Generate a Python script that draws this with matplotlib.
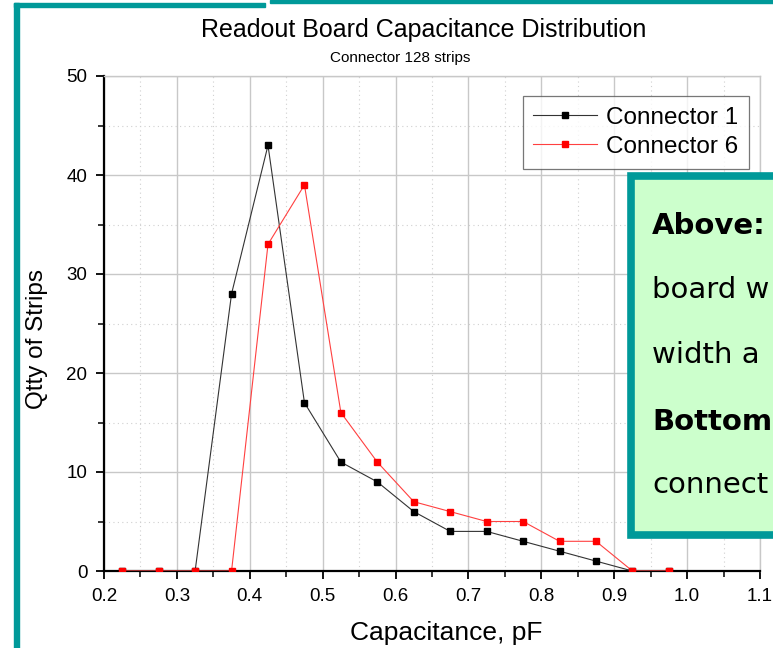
import matplotlib
matplotlib.use("Agg")
import matplotlib.pyplot as plt
from matplotlib.patches import Rectangle
from matplotlib.ticker import MultipleLocator

plt.rcParams['font.family'] = ['Liberation Sans', 'DejaVu Sans']

capacitance = [0.225, 0.275, 0.325, 0.375, 0.425, 0.475, 0.525, 0.575,
               0.625, 0.675, 0.725, 0.775, 0.825, 0.875, 0.925, 0.975]
connector1 = [0, 0, 0, 28, 43, 17, 11, 9, 6, 4, 4, 3, 2, 1, 0, 0]
connector6 = [0, 0, 0, 0, 33, 39, 16, 11, 7, 6, 5, 5, 3, 3, 0, 0]
x_ticks = [0.2, 0.3, 0.4, 0.5, 0.6, 0.7, 0.8, 0.9, 1.0, 1.1]
y_ticks = [0, 10, 20, 30, 40, 50]

W, H = 773, 648
fig = plt.figure(figsize=(W / 100, H / 100), dpi=100)
fig.patch.set_facecolor('white')

ax = fig.add_axes([104 / W, (H - 571) / H, (760 - 104) / W, (571 - 76) / H])
ax.plot(capacitance, connector1, color='#333333', lw=0.8, marker='s',
        ms=5, mfc='black', mec='black', label='Connector 1', zorder=3)
ax.plot(capacitance, connector6, color='#ff4040', lw=0.8, marker='s',
        ms=5, mfc='#ff0000', mec='#ff0000', label='Connector 6', zorder=4)

ax.set_xlim(0.2, 1.1)
ax.set_ylim(0, 50)
ax.set_xticks(x_ticks)
ax.set_xticklabels([f"{v:.1f}" for v in x_ticks])
ax.set_yticks(y_ticks)
ax.xaxis.set_minor_locator(MultipleLocator(0.05))
ax.yaxis.set_minor_locator(MultipleLocator(5))
ax.grid(which='major', color='#c8c8c8', lw=1.0, ls='-')
ax.grid(which='minor', color='#d0d0d0', lw=0.8, ls=(0, (1, 3)))
ax.set_axisbelow(True)
ax.tick_params(which='major', direction='out', length=6, width=1.3,
               labelsize=13.5, colors='black', pad=6)
ax.tick_params(which='minor', direction='out', length=4, width=1.1)
for s in ['top', 'right']:
    ax.spines[s].set_color('#c8c8c8')
    ax.spines[s].set_linewidth(1.0)
for s in ['left', 'bottom']:
    ax.spines[s].set_linewidth(1.6)
ax.set_xlabel('Capacitance, pF', fontsize=19)
ax.set_ylabel('Qtty of Strips', fontsize=17.5)
ax.xaxis.set_label_coords((446 - 104) / 656, -(633 - 571) / 495)
ax.yaxis.set_label_coords(-(104 - 37) / 656, (571 - 339) / 495)
ax.xaxis.label.set_va('center')
ax.yaxis.label.set_va('center')

leg = ax.legend(loc='upper right', bbox_to_anchor=(0.995, 0.975), fontsize=17.5,
                frameon=True, fancybox=False, edgecolor='#555555',
                handlelength=2.6, borderpad=0.45, labelspacing=0.3,
                handletextpad=0.4, borderaxespad=0.3)
leg.get_frame().set_linewidth(0.9)

fig.text(424 / W, 1 - 30 / H, 'Readout Board Capacitance Distribution',
         ha='center', va='center', fontsize=18)
fig.text(400 / W, 1 - 58 / H, 'Connector 128 strips',
         ha='center', va='center', fontsize=11)

teal = '#009999'
# slide frame
fig.patches.append(Rectangle((14 / W, 0), 5 / W, (H - 3) / H,
                             transform=fig.transFigure, color=teal, zorder=10))
fig.patches.append(Rectangle((14 / W, 1 - 7 / H), (265 - 14) / W, 4 / H,
                             transform=fig.transFigure, color=teal, zorder=10))
fig.patches.append(Rectangle((270 / W, 1 - 3 / H), (W - 270) / W, 3 / H,
                             transform=fig.transFigure, color=teal, zorder=10))

# overlay note box
fig.patches.append(Rectangle((630.5 / W, 1 - 534.5 / H), 200 / W, (534.5 - 175.5) / H,
                             transform=fig.transFigure, facecolor='#ccffcc',
                             edgecolor=teal, lw=5.5, zorder=10))
note_lines = [('Above:', 'bold', 226), ('board w', 'normal', 290),
              ('width a', 'normal', 355), ('Bottom', 'bold', 422),
              ('connect', 'normal', 485)]
for txt, wt, yy in note_lines:
    fig.text(652 / W, 1 - yy / H, txt, ha='left', va='center', fontsize=21,
             fontweight=wt, family=['DejaVu Sans'], zorder=11)

fig.savefig('out.png', dpi=100)
